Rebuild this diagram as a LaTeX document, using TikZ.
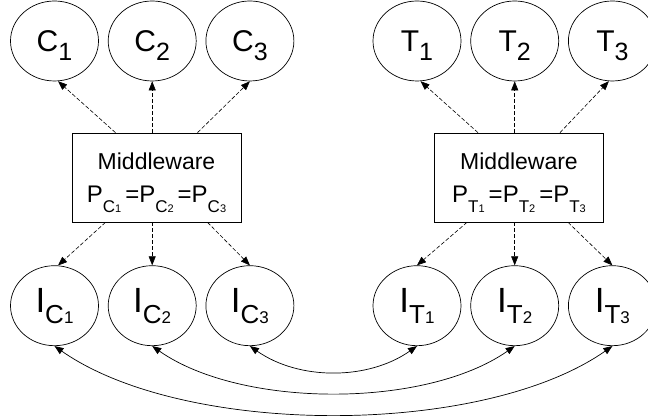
\documentclass[tikz,border=0pt]{standalone}
\usepackage{fontspec}
\setmainfont{Liberation Sans}
\usetikzlibrary{shapes.geometric,arrows.meta,positioning}

\newcommand{\fs}[1]{\fontsize{#1}{#1}\selectfont}
\newcommand{\outname}[2]{{\fs{30}#1}\raisebox{-9pt}[0pt][0pt]{\fs{25}#2}}
\newcommand{\inname}[2]{{\fs{35}I}\raisebox{-11pt}[0pt][10pt]{{\fs{26}#1}{\fs{17}#2}}}
\newcommand{\pname}[2]{{\fs{24}P}\raisebox{-10pt}[0pt][0pt]{{\fs{17}#1}{\fs{11}#2}}}
\newcommand{\peq}{\hspace{4pt}{\fs{24}=}}

\begin{document}
\begin{tikzpicture}[x=1pt, y=1pt,
    agent/.style={ellipse, draw, line width=0.7pt, minimum width=88pt,
                  minimum height=80pt, inner sep=0pt},
    mw/.style={rectangle, draw, line width=0.7pt, minimum width=169pt,
               minimum height=89pt, inner sep=0pt, align=center,
               font=\fontsize{23}{33}\selectfont},
    dep/.style={-{Triangle[length=9pt,width=7pt]}, dash pattern=on 4pt off 2pt,
                line width=0.6pt},
    link/.style={{Triangle[length=9pt,width=7pt]}-{Triangle[length=9pt,width=7pt]},
                 line width=0.7pt}
]
\useasboundingbox (0,0) rectangle (648,419);

% components and their instances
\node[agent] (C1) at (54.5,378) {\outname{C}{1}};
\node[agent, right=9pt of C1] (C2) {\outname{C}{2}};
\node[agent, right=9pt of C2] (C3) {\outname{C}{3}};
\node[agent] (T1) at (417,378) {\outname{T}{1}};
\node[agent, right=9pt of T1] (T2) {\outname{T}{2}};
\node[agent, right=9pt of T2] (T3) {\outname{T}{3}};

\node[agent, below=184pt of C1] (IC1) {\inname{C}{1}};
\node[agent, below=184pt of C2] (IC2) {\inname{C}{2}};
\node[agent, below=184pt of C3] (IC3) {\inname{C}{3}};
\node[agent, below=184pt of T1] (IT1) {\inname{T}{1}};
\node[agent, below=184pt of T2] (IT2) {\inname{T}{2}};
\node[agent, below=184pt of T3] (IT3) {\inname{T}{3}};

% middleware boxes
\node[mw] (mwC) at (156.5,241.5)
      {Middleware\\ \pname{C}{1}\peq\pname{C}{2}\peq\pname{C}{3}};
\node[mw] (mwT) at (519,241.5)
      {Middleware\\ \pname{T}{1}\peq\pname{T}{2}\peq\pname{T}{3}};

\draw[dep] ([xshift=-41pt]mwC.north) -- (C1.-85);
\draw[dep] (mwC.north -| C2.south) -- (C2.south);
\draw[dep] ([xshift=41pt]mwC.north)  -- (C3.south);
\draw[dep] ([xshift=-51pt]mwC.south) -- (IC1.85);
\draw[dep] (mwC.south -| IC2.north) -- (IC2.north);
\draw[dep] ([xshift=51pt]mwC.south)  -- (IC3.north);

\draw[dep] ([xshift=-41pt]mwT.north) -- (T1.-85);
\draw[dep] (mwT.north -| T2.south) -- (T2.south);
\draw[dep] ([xshift=41pt]mwT.north)  -- (T3.-95);
\draw[dep] ([xshift=-52pt]mwT.south) -- (IT1.north);
\draw[dep] (mwT.south -| IT2.north) -- (IT2.north);
\draw[dep] ([xshift=49pt]mwT.south)  -- (IT3.north);

% instance links
\draw[link] (IC3.south) to[out=-35, in=-145, looseness=0.92] (IT1.south);
\draw[link] (IC2.south) to[out=-35, in=-145, looseness=0.77] (IT2.south);
\draw[link] (IC1.south) to[out=-35, in=-145, looseness=0.73] (IT3.south);
\end{tikzpicture}
\end{document}
